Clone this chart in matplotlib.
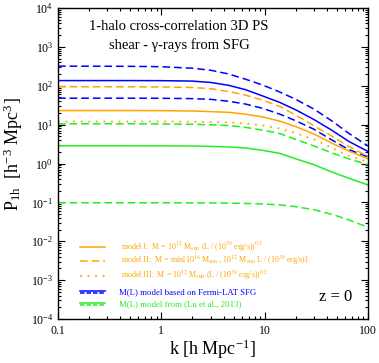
import matplotlib
matplotlib.use("Agg")
import matplotlib.pyplot as plt
from matplotlib.lines import Line2D
from matplotlib.ticker import LogLocator, NullFormatter, LogFormatterMathtext, FixedLocator, FixedFormatter

plt.rcParams['font.family'] = ['Liberation Serif', 'DejaVu Serif']
plt.rcParams['mathtext.fontset'] = 'stix'

# data
k = [0.1, 0.5, 1, 2, 3, 4.5, 6.5, 9.5, 14, 20, 30, 45, 65, 100]
fermi_dash_hi = [320, 316, 309, 282, 251, 200, 148, 105, 69, 44.7, 25.1, 12.3, 6.0, 2.82]
fermi_solid = [135.8, 135.8, 135.2, 131.8, 121.6, 102.3, 79.4, 55.0, 37.2, 24.0, 13.5, 7.08, 3.72, 2.04]
fermi_dash_lo = [47.9, 47.9, 47.6, 46.6, 44.7, 39.8, 33.9, 26.3, 18.6, 12.6, 7.59, 3.98, 2.29, 1.48]
model1 = [23.0, 23.0, 22.9, 22.4, 21.6, 20.7, 18.6, 15.8, 12.3, 8.91, 5.75, 3.31, 2.09, 1.32]
model2 = [94.4, 94.0, 93.1, 90.2, 84.1, 70.8, 57.5, 42.7, 29.5, 17.4, 9.33, 5.01, 2.75, 1.51]
model3 = [12.0, 12.0, 12.0, 11.9, 11.7, 11.4, 10.7, 9.55, 7.94, 6.03, 4.17, 2.51, 1.58, 1.10]
lu_dash_hi = [10.5, 10.5, 10.4, 10.2, 9.89, 9.44, 8.51, 7.24, 5.89, 4.17, 2.82, 1.86, 1.32, 0.93]
lu_solid = [2.85, 2.85, 2.84, 2.82, 2.75, 2.66, 2.51, 2.19, 1.82, 1.32, 0.93, 0.60, 0.42, 0.28]
lu_dash_lo = [0.0977, 0.0977, 0.0977, 0.0973, 0.0966, 0.0955, 0.0938, 0.0912, 0.0861, 0.0776, 0.0646, 0.0490, 0.0355, 0.0229]

legend_labels = [
    r"model I:  M = 10$^{12}$ M$_{\rm sun}$ (L / (10$^{39}$ erg/s))$^{0.5}$",
    r"model II:  M = min[10$^{14}$ M$_{\rm sun}$ , 10$^{12}$ M$_{\rm sun}$ L / (10$^{39}$ erg/s)]",
    r"model III:  M = 10$^{12}$ M$_{\rm sun}$ (L / (10$^{39}$ erg/s))$^{0.2}$",
    "M(L) model based on Fermi-LAT SFG",
    "M(L) model from (Lu et al., 2013)",
]

ORANGE = '#FFA500'
BLUE = '#0000FF'
GREEN = '#22EE22'
DASH = (0, (5, 2.6))
DOT = (0, (1, 3.2))

fig = plt.figure(figsize=(3.79, 3.63), dpi=100)
ax = fig.add_axes([58/379, 1-319/363, 310/379, 311/363])

lw = 1.1
ax.plot(k, fermi_dash_hi, color=BLUE, lw=lw, ls=DASH)
ax.plot(k, fermi_solid, color=BLUE, lw=lw)
ax.plot(k, fermi_dash_lo, color=BLUE, lw=lw, ls=DASH)
ax.plot(k, model2, color=ORANGE, lw=lw, ls=DASH)
ax.plot(k, model1, color=ORANGE, lw=lw)
ax.plot(k, model3, color=ORANGE, lw=1.3, ls=DOT)
ax.plot(k, lu_dash_hi, color=GREEN, lw=lw, ls=DASH)
ax.plot(k, lu_solid, color=GREEN, lw=lw)
ax.plot(k, lu_dash_lo, color=GREEN, lw=lw, ls=DASH)

ax.set_xscale('log')
ax.set_yscale('log')
ax.set_xlim(0.1, 100)
ax.set_ylim(1e-4, 1e4)

ax.xaxis.set_major_locator(FixedLocator([0.1, 1, 10, 100]))
ax.xaxis.set_major_formatter(FixedFormatter(['0.1', '1', '10', '100']))
ax.xaxis.set_minor_locator(LogLocator(base=10, subs=range(2, 10), numticks=20))
ax.xaxis.set_minor_formatter(NullFormatter())
ax.yaxis.set_major_locator(LogLocator(base=10, numticks=20))
ax.yaxis.set_major_formatter(LogFormatterMathtext())
ax.yaxis.set_minor_locator(LogLocator(base=10, subs=range(2, 10), numticks=20))
ax.yaxis.set_minor_formatter(NullFormatter())

ax.tick_params(which='both', direction='in', top=True, right=True, labelsize=8.5, width=0.8)
ax.tick_params(which='major', length=5)
ax.tick_params(which='minor', length=2.5)
ax.tick_params(axis='x', pad=4)
for s in ax.spines.values():
    s.set_linewidth(1.0)

ax.set_xlabel("k [h Mpc$^{\\mathregular{-1}}$]", fontsize=13, labelpad=1)
ax.set_ylabel("P$_{\\mathregular{1h}}$  [h$^{\\mathregular{-3}}$ Mpc$^{\\mathregular{3}}$]", fontsize=13)
ax.yaxis.set_label_coords(-0.108, 0.53)

ax.text(0.39, 0.94, "1-halo cross-correlation 3D PS", transform=ax.transAxes,
        ha='center', va='center', fontsize=10.5)
ax.text(0.39, 0.882, "shear - \u03b3-rays from SFG", transform=ax.transAxes,
        ha='center', va='center', fontsize=10.5)
ax.text(0.95, 0.07, "z = 0", transform=ax.transAxes, ha='right', va='center', fontsize=12)

# manual legend
rows = [0.232, 0.186, 0.138, 0.087, 0.048]
x0, x1, xt = 0.071, 0.152, 0.203
styles = [(ORANGE, '-', lw), (ORANGE, DASH, lw), (ORANGE, DOT, 1.3)]
for (c, ls, w), y, lab in zip(styles, rows[:3], legend_labels[:3]):
    ax.add_line(Line2D([x0, x1], [y, y], color=c, ls=ls, lw=w, transform=ax.transAxes))
    ax.text(xt, y, lab, transform=ax.transAxes, fontsize=5.8, color=ORANGE, va='center')
for c, y, lab in [(BLUE, rows[3], legend_labels[3]), (GREEN, rows[4], legend_labels[4])]:
    ax.add_line(Line2D([x0, x1], [y + 0.004, y + 0.004], color=c, lw=lw, transform=ax.transAxes))
    ax.add_line(Line2D([x0, x1], [y - 0.003, y - 0.003], color=c, lw=lw, ls=(0, (3, 1.2)), transform=ax.transAxes))
    ax.text(xt - 0.006, y, lab, transform=ax.transAxes, fontsize=6.3, color=c, va='center')

fig.savefig('out.png', dpi=100)
